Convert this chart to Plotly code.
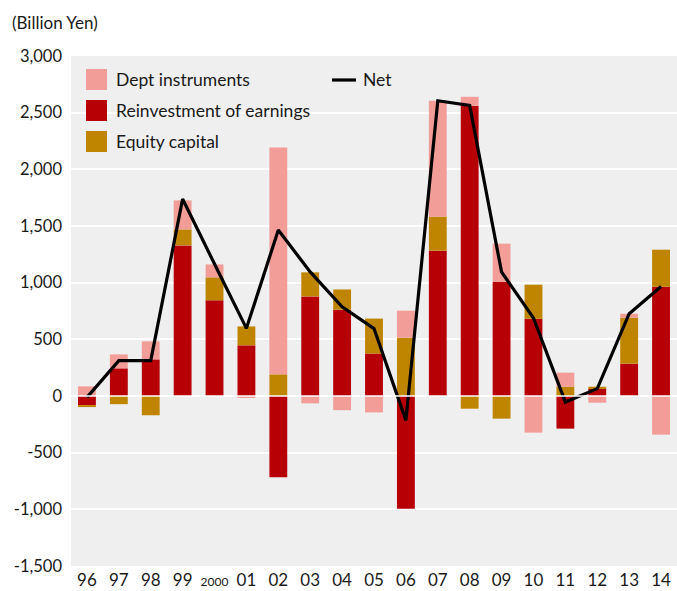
import plotly.graph_objects as go

years = ["96", "97", "98", "99", "2000", "01", "02", "03", "04", "05",
         "06", "07", "08", "09", "10", "11", "12", "13", "14"]
year_labels = ["96", "97", "98", "99", "<span style='font-size:12px'>2000</span>", "01", "02", "03", "04", "05",
               "06", "07", "08", "09", "10", "11", "12", "13", "14"]

reinvestment = [-80, 244, 323, 1329, 844, 447, -717, 879, 762, 375,
                -994, 1282, 2561, 1009, 682, -288, 65, 285, 964]
equity = [-18, -72, -170, 141, 203, 167, 191, 212, 178, 308,
          515, 300, -112, -200, 300, 82, 17, 406, 327]
debt = [85, 123, 159, 256, 114, -15, 2002, -65, -125, -145,
        238, 1023, 79, 335, -323, 124, -59, 35, -341]
net = [-12, 312, 312, 1738, 1165, 597, 1464, 1095, 787, 595,
       -215, 2605, 2564, 1094, 688, -53, 65, 726, 967]

y_tickvals = [3000, 2500, 2000, 1500, 1000, 500, 0, -500, -1000, -1500]
y_ticktext = ["3,000", "2,500", "2,000", "1,500", "1,000", "500", "0", "-500", "-1,000", "-1,500"]

C_DEBT = "#F29D98"
C_REINV = "#B70006"
C_EQ = "#C08500"
FONT = "Lato"
TXT = "#1a1a1a"

fig = go.Figure()
fig.add_trace(go.Bar(x=years, y=reinvestment, name="Reinvestment of earnings",
                     marker=dict(color=C_REINV, line=dict(width=0)), showlegend=False))
fig.add_trace(go.Bar(x=years, y=equity, name="Equity capital",
                     marker=dict(color=C_EQ, line=dict(width=0)), showlegend=False))
fig.add_trace(go.Bar(x=years, y=debt, name="Dept instruments",
                     marker=dict(color=C_DEBT, line=dict(width=0)), showlegend=False))
fig.add_trace(go.Scatter(x=years, y=net, name="Net", mode="lines",
                         line=dict(color="black", width=3.2), showlegend=False))

# plot area geometry in pixels
W, H = 677, 591
L, R, T, B = 71, 0, 56, 25
PW = W - L - R
PH = H - T - B

def px(xp):
    return (xp - L) / PW

def py(yp):
    return (H - B - yp) / PH

shapes = []
annotations = []
legend_items = [("Dept instruments", C_DEBT, 69), ("Reinvestment of earnings", C_REINV, 100),
                ("Equity capital", C_EQ, 131)]
for label, col, top in legend_items:
    shapes.append(dict(type="rect", xref="paper", yref="paper",
                       x0=px(86), x1=px(107), y0=py(top + 21), y1=py(top),
                       fillcolor=col, line=dict(width=0)))
    annotations.append(dict(text=label, xref="paper", yref="paper", x=px(114), y=py(top + 10.5),
                            xanchor="left", yanchor="middle", showarrow=False,
                            font=dict(family=FONT, size=17.5, color=TXT)))
shapes.append(dict(type="line", xref="paper", yref="paper", x0=px(332), x1=px(356),
                   y0=py(80), y1=py(80), line=dict(color="black", width=3.2)))
# white zero baseline drawn over the bars, as in the reference
shapes.append(dict(type="line", xref="paper", yref="y", x0=0, x1=1, y0=0, y1=0,
                   line=dict(color="white", width=1.5), layer="above"))
annotations.append(dict(text="Net", xref="paper", yref="paper", x=px(361), y=py(79.5),
                        xanchor="left", yanchor="middle", showarrow=False,
                        font=dict(family=FONT, size=17.5, color=TXT)))
annotations.append(dict(text="(Billion Yen)", xref="paper", yref="paper", x=px(10), y=py(22),
                        xanchor="left", yanchor="middle", showarrow=False,
                        font=dict(family=FONT, size=17, color=TXT)))

fig.update_layout(
    width=W, height=H,
    margin=dict(l=L, r=R, t=T, b=B),
    barmode="relative",
    bargap=0.44,
    plot_bgcolor="#EFEFEF",
    paper_bgcolor="white",
    font=dict(family=FONT, size=16, color=TXT),
    shapes=shapes,
    annotations=annotations,
    showlegend=False,
)
fig.update_xaxes(type="category", range=[-0.5, 18.5], tickvals=years, ticktext=year_labels,
                 showgrid=False, ticks="", showline=False, tickfont=dict(size=17),
                 ticklabelstandoff=2)
fig.update_yaxes(range=[-1500, 3000], tickvals=y_tickvals, ticktext=y_ticktext,
                 showgrid=True, gridcolor="white", gridwidth=2, zeroline=True,
                 zerolinecolor="white", zerolinewidth=2, ticks="", tickfont=dict(size=16.5),
                 ticklabelstandoff=8)

fig.write_html("out.html", config={"displayModeBar": False},
               post_script="document.body.style.margin='0';document.body.style.overflow='hidden';")
